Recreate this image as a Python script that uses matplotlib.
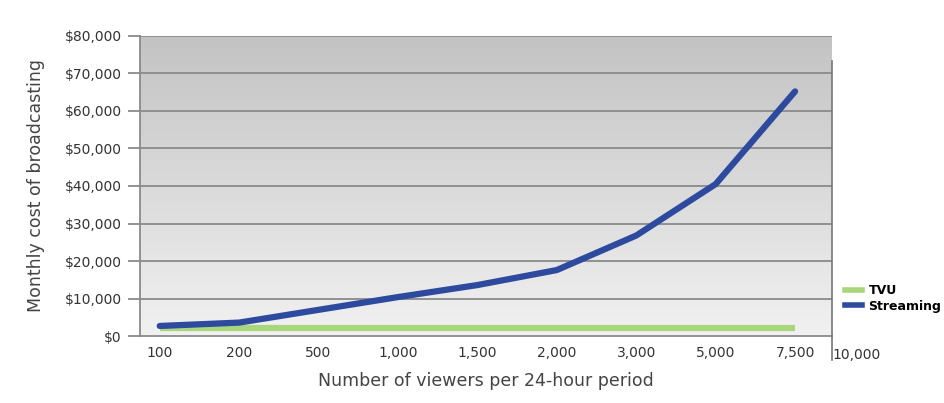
import numpy as np
import matplotlib.pyplot as plt
from matplotlib.colors import LinearSegmentedColormap
from matplotlib.lines import Line2D

# viewer categories (x axis) and monthly cost readings
viewers = ["100", "200", "500", "1,000", "1,500", "2,000", "3,000", "5,000", "7,500"]
extra_label = "10,000"
streaming = [2700, 3600, 7000, 10400, 13600, 17600, 26800, 40500, 65200]
tvu = [2200, 2200, 2200, 2200, 2200, 2200, 2200, 2200, 2200]

y_ticks = [0, 10000, 20000, 30000, 40000, 50000, 60000, 70000, 80000]

fig = plt.figure(figsize=(9.45, 4.03), dpi=100)
ax = fig.add_axes([0.148, 0.166, 0.732, 0.745])

x = np.arange(len(viewers))
ax.set_xlim(-0.25, 8.46)
ax.set_ylim(0, 80000)

# gray gradient backdrop
grad = LinearSegmentedColormap.from_list("bg", ["#f1f1f1", "#c3c3c3"])
ax.imshow(np.linspace(0, 1, 256).reshape(-1, 1), cmap=grad, aspect="auto",
          extent=[0, 1, 0, 1], transform=ax.transAxes, origin="lower", zorder=0)

for t in y_ticks[1:]:
    ax.axhline(t, color="#8a8a8a", lw=1.3, zorder=1)

ax.plot(x, tvu, color="#a8d67c", lw=4.5, solid_capstyle="butt", zorder=3)
ax.plot(x, streaming, color="#2d4a9f", lw=4.5, solid_capstyle="round",
        solid_joinstyle="round", zorder=4)

# axes styling
for s in ["top", "right"]:
    ax.spines[s].set_visible(False)
ax.spines["left"].set_color("#8a8a8a")
ax.spines["left"].set_linewidth(1.3)
ax.spines["bottom"].set_color("#8a8a8a")
ax.spines["bottom"].set_linewidth(1.3)
ax.plot([1, 1], [-0.08, 0.917], transform=ax.transAxes, color="#777777",
        lw=1.2, clip_on=False, zorder=5)

ax.set_yticks(y_ticks)
ax.set_yticklabels(["$" + f"{v:,}" for v in y_ticks])
ax.tick_params(axis="y", length=9, width=1.3, color="#8a8a8a", pad=4,
               labelsize=10, labelcolor="#333333")
ax.set_xticks(x)
ax.set_xticklabels(viewers)
ax.tick_params(axis="x", length=0, pad=7, labelsize=10, labelcolor="#333333")
ax.text(8.78, -3300, extra_label, ha="center", va="top", fontsize=10,
        color="#333333")

ax.set_ylabel("Monthly cost of broadcasting", fontsize=12.5, color="#444444",
              labelpad=14)
ax.set_xlabel("Number of viewers per 24-hour period", fontsize=12.5,
              color="#444444", labelpad=9)

handles = [Line2D([], [], color="#a8d67c", lw=4),
           Line2D([], [], color="#2d4a9f", lw=4)]
ax.legend(handles, ["TVU", "Streaming"], loc="center left",
          bbox_to_anchor=(1.008, 0.125), frameon=False, handlelength=1.4,
          handletextpad=0.5, labelspacing=0.2, borderaxespad=0.2,
          prop={"weight": "bold", "size": 9})

fig.savefig("out.png", dpi=100, facecolor="white")
